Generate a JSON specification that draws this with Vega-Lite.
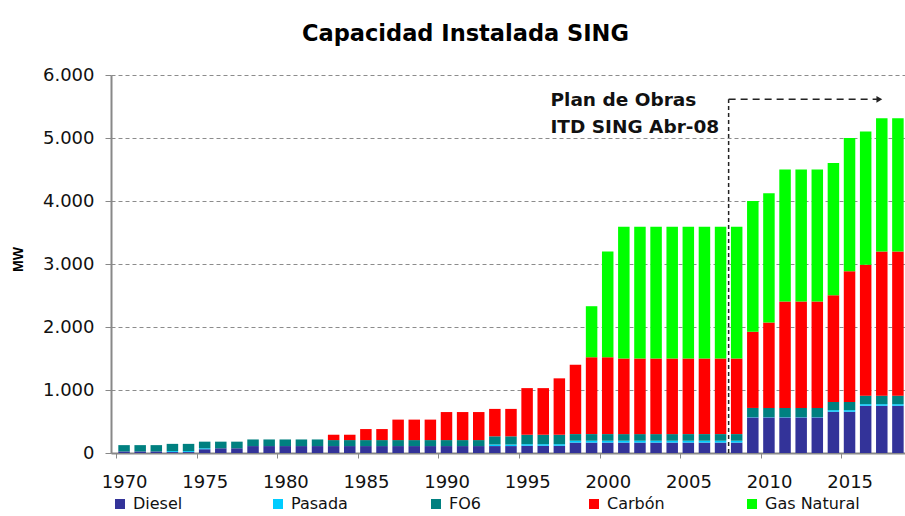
{
  "$schema": "https://vega.github.io/schema/vega-lite/v6.json",
  "width": 794,
  "height": 378,
  "autosize": {"type": "none"},
  "padding": {"left": 111, "top": 75, "right": 0, "bottom": 63},
  "background": "white",
  "config": {"view": {"stroke": null}, "font": "DejaVu Sans"},
  "title": {
    "text": "Capacidad Instalada SING",
    "anchor": "start",
    "frame": "group",
    "dx": 191,
    "offset": 21,
    "font": "DejaVu Sans",
    "fontSize": 22.5,
    "fontWeight": "bold",
    "color": "#000000"
  },
  "layer": [
    {
      "data": {
        "values": [
          {"year": 1970, "Diesel": 25, "Pasada": 0, "FO6": 100, "Carbón": 0, "Gas Natural": 0},
          {"year": 1971, "Diesel": 25, "Pasada": 0, "FO6": 100, "Carbón": 0, "Gas Natural": 0},
          {"year": 1972, "Diesel": 25, "Pasada": 0, "FO6": 100, "Carbón": 0, "Gas Natural": 0},
          {"year": 1973, "Diesel": 15, "Pasada": 15, "FO6": 115, "Carbón": 0, "Gas Natural": 0},
          {"year": 1974, "Diesel": 15, "Pasada": 15, "FO6": 115, "Carbón": 0, "Gas Natural": 0},
          {"year": 1975, "Diesel": 60, "Pasada": 15, "FO6": 105, "Carbón": 0, "Gas Natural": 0},
          {"year": 1976, "Diesel": 75, "Pasada": 0, "FO6": 105, "Carbón": 0, "Gas Natural": 0},
          {"year": 1977, "Diesel": 75, "Pasada": 0, "FO6": 105, "Carbón": 0, "Gas Natural": 0},
          {"year": 1978, "Diesel": 110, "Pasada": 0, "FO6": 105, "Carbón": 0, "Gas Natural": 0},
          {"year": 1979, "Diesel": 110, "Pasada": 0, "FO6": 105, "Carbón": 0, "Gas Natural": 0},
          {"year": 1980, "Diesel": 110, "Pasada": 0, "FO6": 105, "Carbón": 0, "Gas Natural": 0},
          {"year": 1981, "Diesel": 110, "Pasada": 0, "FO6": 105, "Carbón": 0, "Gas Natural": 0},
          {"year": 1982, "Diesel": 110, "Pasada": 0, "FO6": 105, "Carbón": 0, "Gas Natural": 0},
          {"year": 1983, "Diesel": 110, "Pasada": 0, "FO6": 95, "Carbón": 85, "Gas Natural": 0},
          {"year": 1984, "Diesel": 110, "Pasada": 0, "FO6": 95, "Carbón": 85, "Gas Natural": 0},
          {"year": 1985, "Diesel": 110, "Pasada": 0, "FO6": 95, "Carbón": 175, "Gas Natural": 0},
          {"year": 1986, "Diesel": 110, "Pasada": 0, "FO6": 95, "Carbón": 175, "Gas Natural": 0},
          {"year": 1987, "Diesel": 110, "Pasada": 0, "FO6": 95, "Carbón": 325, "Gas Natural": 0},
          {"year": 1988, "Diesel": 110, "Pasada": 0, "FO6": 95, "Carbón": 325, "Gas Natural": 0},
          {"year": 1989, "Diesel": 110, "Pasada": 0, "FO6": 95, "Carbón": 325, "Gas Natural": 0},
          {"year": 1990, "Diesel": 110, "Pasada": 0, "FO6": 95, "Carbón": 445, "Gas Natural": 0},
          {"year": 1991, "Diesel": 110, "Pasada": 0, "FO6": 95, "Carbón": 445, "Gas Natural": 0},
          {"year": 1992, "Diesel": 110, "Pasada": 0, "FO6": 95, "Carbón": 445, "Gas Natural": 0},
          {"year": 1993, "Diesel": 110, "Pasada": 25, "FO6": 130, "Carbón": 435, "Gas Natural": 0},
          {"year": 1994, "Diesel": 110, "Pasada": 25, "FO6": 130, "Carbón": 435, "Gas Natural": 0},
          {"year": 1995, "Diesel": 115, "Pasada": 25, "FO6": 150, "Carbón": 740, "Gas Natural": 0},
          {"year": 1996, "Diesel": 115, "Pasada": 25, "FO6": 150, "Carbón": 740, "Gas Natural": 0},
          {"year": 1997, "Diesel": 115, "Pasada": 25, "FO6": 150, "Carbón": 895, "Gas Natural": 0},
          {"year": 1998, "Diesel": 165, "Pasada": 30, "FO6": 105, "Carbón": 1100, "Gas Natural": 0},
          {"year": 1999, "Diesel": 165, "Pasada": 30, "FO6": 105, "Carbón": 1220, "Gas Natural": 810},
          {"year": 2000, "Diesel": 165, "Pasada": 30, "FO6": 105, "Carbón": 1220, "Gas Natural": 1680},
          {"year": 2001, "Diesel": 165, "Pasada": 30, "FO6": 105, "Carbón": 1200, "Gas Natural": 2090},
          {"year": 2002, "Diesel": 165, "Pasada": 30, "FO6": 105, "Carbón": 1200, "Gas Natural": 2090},
          {"year": 2003, "Diesel": 165, "Pasada": 30, "FO6": 105, "Carbón": 1200, "Gas Natural": 2090},
          {"year": 2004, "Diesel": 165, "Pasada": 30, "FO6": 105, "Carbón": 1200, "Gas Natural": 2090},
          {"year": 2005, "Diesel": 165, "Pasada": 30, "FO6": 105, "Carbón": 1200, "Gas Natural": 2090},
          {"year": 2006, "Diesel": 165, "Pasada": 30, "FO6": 105, "Carbón": 1200, "Gas Natural": 2090},
          {"year": 2007, "Diesel": 165, "Pasada": 30, "FO6": 105, "Carbón": 1200, "Gas Natural": 2090},
          {"year": 2008, "Diesel": 165, "Pasada": 30, "FO6": 105, "Carbón": 1200, "Gas Natural": 2090},
          {"year": 2009, "Diesel": 565, "Pasada": 5, "FO6": 145, "Carbón": 1210, "Gas Natural": 2075},
          {"year": 2010, "Diesel": 565, "Pasada": 5, "FO6": 145, "Carbón": 1355, "Gas Natural": 2055},
          {"year": 2011, "Diesel": 565, "Pasada": 5, "FO6": 145, "Carbón": 1690, "Gas Natural": 2095},
          {"year": 2012, "Diesel": 565, "Pasada": 5, "FO6": 145, "Carbón": 1690, "Gas Natural": 2095},
          {"year": 2013, "Diesel": 565, "Pasada": 5, "FO6": 145, "Carbón": 1690, "Gas Natural": 2095},
          {"year": 2014, "Diesel": 655, "Pasada": 25, "FO6": 130, "Carbón": 1695, "Gas Natural": 2100},
          {"year": 2015, "Diesel": 655, "Pasada": 25, "FO6": 130, "Carbón": 2075, "Gas Natural": 2115},
          {"year": 2016, "Diesel": 750, "Pasada": 25, "FO6": 135, "Carbón": 2080, "Gas Natural": 2115},
          {"year": 2017, "Diesel": 750, "Pasada": 25, "FO6": 135, "Carbón": 2290, "Gas Natural": 2115},
          {"year": 2018, "Diesel": 750, "Pasada": 25, "FO6": 135, "Carbón": 2290, "Gas Natural": 2115}
        ]
      },
      "transform": [
        {"fold": ["Diesel", "Pasada", "FO6", "Carbón", "Gas Natural"], "as": ["fuel", "mw"]},
        {"window": [{"op": "row_number", "as": "rk"}], "groupby": ["year"]}
      ],
      "mark": {"type": "bar", "size": 11.5, "clip": true},
      "encoding": {
        "x": {
          "field": "year",
          "type": "quantitative",
          "scale": {"domain": [1969.5, 2018.13], "nice": false, "zero": false},
          "axis": {
            "title": null,
            "values": [1969.5, 1974.5, 1979.5, 1984.5, 1989.5, 1994.5, 1999.5, 2004.5, 2009.5, 2014.5],
            "labelExpr": "format(datum.value + 0.5, 'd')",
            "labelOffset": 8.17,
            "labelFlush": false,
            "labelOverlap": false,
            "grid": false,
            "tickSize": 5,
            "tickColor": "#888888",
            "domainColor": "#888888",
            "domainWidth": 2,
            "labelFont": "DejaVu Sans",
            "labelFontSize": 18,
            "labelColor": "#111111",
            "labelPadding": 15
          }
        },
        "y": {
          "field": "mw",
          "type": "quantitative",
          "stack": "zero",
          "scale": {"domain": [0, 6000], "nice": false},
          "axis": {
            "title": "MW",
            "values": [0, 500, 1000, 1500, 2000, 2500, 3000, 3500, 4000, 4500, 5000, 5500, 6000],
            "labelExpr": "replace(format(datum.value, ','), ',', '.')",
            "grid": true,
            "gridColor": "#8c8c8c",
            "gridDash": [4, 3],
            "tickSize": 6,
            "tickColor": "#888888",
            "domainColor": "#888888",
            "domainWidth": 2,
            "labelFont": "DejaVu Sans",
            "labelFontSize": 18,
            "labelColor": "#111111",
            "labelPadding": 11,
            "titleFont": "Liberation Sans",
            "titleFontWeight": "bold",
            "titleFontSize": 14,
            "titleColor": "#000000",
            "titleX": -86,
            "titleY": 184
          }
        },
        "color": {
          "field": "fuel",
          "type": "nominal",
          "scale": {
            "domain": ["Diesel", "Pasada", "FO6", "Carbón", "Gas Natural"],
            "range": ["#333399", "#00CCFF", "#008080", "#FF0000", "#00FF00"]
          },
          "legend": {
            "title": null,
            "orient": "none",
            "legendX": 1,
            "legendY": 421,
            "direction": "horizontal",
            "columns": 5,
            "gridAlign": "all",
            "columnPadding": 42,
            "symbolType": "square",
            "symbolSize": 100,
            "symbolStrokeWidth": 0,
            "symbolOpacity": 1,
            "labelOffset": 5,
            "labelFont": "DejaVu Sans",
            "labelFontSize": 16,
            "labelColor": "#111111"
          }
        },
        "order": {"field": "rk", "type": "quantitative", "sort": "ascending"}
      }
    },
    {
      "data": {"values": [{}]},
      "mark": {"type": "rule", "color": "#222222", "strokeWidth": 1.5, "strokeDash": [4, 3]},
      "encoding": {
        "x": {"datum": 2007.5, "type": "quantitative"},
        "y": {"datum": 0, "type": "quantitative"},
        "y2": {"datum": 5614}
      }
    },
    {
      "data": {"values": [{}]},
      "mark": {"type": "rule", "color": "#222222", "strokeWidth": 1.5, "strokeDash": [7, 5]},
      "encoding": {
        "x": {"datum": 2007.5, "type": "quantitative"},
        "x2": {"datum": 2016.7},
        "y": {"datum": 5614, "type": "quantitative"}
      }
    },
    {
      "data": {"values": [{}]},
      "mark": {"type": "point", "shape": "triangle-right", "filled": true, "size": 45, "color": "#222222", "opacity": 1},
      "encoding": {
        "x": {"datum": 2016.85, "type": "quantitative"},
        "y": {"datum": 5614, "type": "quantitative"}
      }
    },
    {
      "data": {"values": [{"label": "Plan de Obras", "mw": 5508}, {"label": "ITD SING Abr-08", "mw": 5079}]},
      "mark": {"type": "text", "align": "left", "baseline": "alphabetic", "font": "DejaVu Sans", "fontWeight": "bold", "fontSize": 18.5, "color": "#111111"},
      "encoding": {
        "x": {"datum": 1996.45, "type": "quantitative"},
        "y": {"field": "mw", "type": "quantitative"},
        "text": {"field": "label"}
      }
    }
  ]
}
